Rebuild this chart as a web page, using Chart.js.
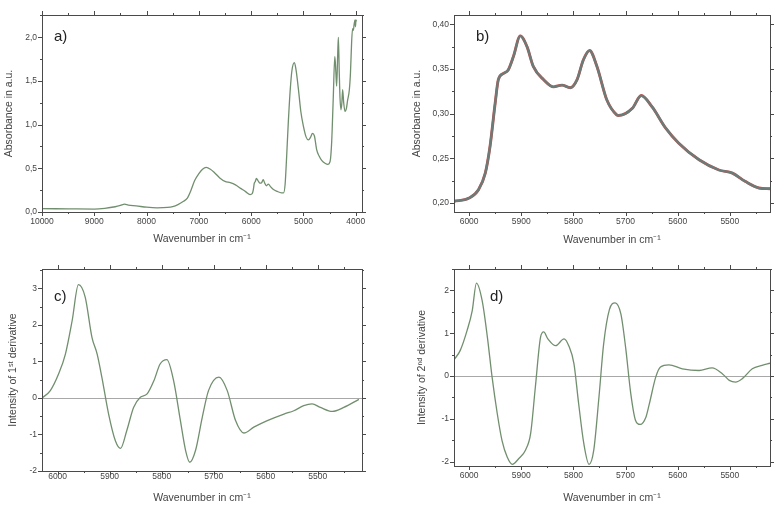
<!DOCTYPE html>
<html>
<head>
<meta charset="utf-8">
<script src="https://cdn.jsdelivr.net/npm/chart.js@4.4.1/dist/chart.umd.min.js"></script>
<style>
  body { margin: 0; background: #fff; }
  .panel { position: absolute; width: 392px; height: 254px; }
</style>
</head>
<body>
<div class="panel" style="left:0;top:0"><canvas id="chartA" width="392" height="254"></canvas></div>
<div class="panel" style="left:392px;top:0"><canvas id="chartB" width="392" height="254"></canvas></div>
<div class="panel" style="left:0;top:254px"><canvas id="chartC" width="392" height="254"></canvas></div>
<div class="panel" style="left:392px;top:254px"><canvas id="chartD" width="392" height="254"></canvas></div>
<script>
// Tick labels
const wideTicks = [10000, 9000, 8000, 7000, 6000, 5000, 4000];
const zoomTicks = [6000, 5900, 5800, 5700, 5600, 5500];

// a) full NIR spectrum
const aWave = [10000, 9500, 9000, 8800, 8600, 8500, 8420, 8350, 8200, 8000, 7800, 7600, 7500, 7400, 7300, 7220, 7150, 7080, 7000, 6930, 6860, 6780, 6700, 6600, 6500, 6400, 6300, 6200, 6100, 6020, 5980, 5960, 5940, 5920, 5900, 5870, 5830, 5800, 5770, 5740, 5710, 5670, 5630, 5580, 5500, 5420, 5380, 5350, 5320, 5290, 5255, 5220, 5172, 5140, 5095, 5050, 5000, 4950, 4905, 4860, 4828, 4790, 4746, 4700, 4651, 4580, 4536, 4490, 4460, 4430, 4400, 4380, 4365, 4345, 4332, 4315, 4300, 4281, 4265, 4250, 4230, 4205, 4180, 4155, 4122, 4100, 4078, 4060, 4046, 4030, 4014, 4005, 3995, 3985];
const aAbs = [0.038, 0.036, 0.034, 0.042, 0.06, 0.075, 0.09, 0.078, 0.07, 0.055, 0.048, 0.052, 0.062, 0.085, 0.12, 0.16, 0.25, 0.36, 0.44, 0.49, 0.51, 0.49, 0.45, 0.39, 0.35, 0.335, 0.31, 0.27, 0.23, 0.2, 0.21, 0.25, 0.33, 0.35, 0.385, 0.36, 0.33, 0.335, 0.37, 0.33, 0.3, 0.32, 0.29, 0.26, 0.235, 0.22, 0.22, 0.32, 0.65, 1.02, 1.38, 1.62, 1.71, 1.62, 1.4, 1.15, 0.98, 0.86, 0.826, 0.86, 0.9, 0.87, 0.71, 0.64, 0.59, 0.555, 0.545, 0.58, 0.8, 1.3, 1.78, 1.6, 1.44, 1.8, 2.0, 1.6, 1.3, 1.17, 1.25, 1.4, 1.25, 1.15, 1.18, 1.28, 1.4, 1.6, 1.95, 2.1, 2.08, 2.15, 2.2, 2.12, 2.2, 2.18];

// b) zoom 6030-5420 cm-1
const bWave = [6029, 6000, 5982, 5969, 5960, 5950, 5944, 5934, 5925, 5915, 5902, 5889, 5877, 5857, 5838, 5822, 5806, 5793, 5781, 5769, 5755, 5736, 5717, 5713, 5687, 5670, 5649, 5623, 5598, 5559, 5521, 5495, 5470, 5444, 5423];
const bAbs = [0.202, 0.2056, 0.215, 0.2335, 0.263, 0.312, 0.338, 0.345, 0.349, 0.364, 0.387, 0.375, 0.353, 0.338, 0.33, 0.332, 0.329, 0.338, 0.36, 0.3706, 0.353, 0.3155, 0.2987, 0.298, 0.306, 0.3203, 0.3075, 0.2838, 0.267, 0.2484, 0.237, 0.2335, 0.224, 0.2168, 0.216];

// c) 1st derivative
const cWave = [6030, 6014, 5998, 5985, 5972, 5960, 5947, 5934, 5924, 5915, 5902, 5889, 5879, 5867, 5854, 5841, 5828, 5815, 5803, 5790, 5777, 5764, 5754, 5746, 5735, 5722, 5710, 5690, 5674, 5658, 5642, 5623, 5597, 5565, 5546, 5527, 5511, 5495, 5472, 5450, 5421];
const cDeriv = [0.0, 0.2, 0.66, 1.2, 2.12, 3.1, 2.76, 1.66, 1.2, 0.57, -0.44, -1.17, -1.38, -0.89, -0.26, 0.02, 0.11, 0.47, 0.93, 1.05, 0.47, -0.62, -1.44, -1.76, -1.44, -0.53, 0.2, 0.57, 0.2, -0.62, -0.96, -0.8, -0.62, -0.44, -0.35, -0.21, -0.16, -0.26, -0.37, -0.26, -0.04];

// d) 2nd derivative
const dWave = [6029, 6017, 6004, 5994, 5986, 5975, 5965, 5956, 5946, 5937, 5927, 5917, 5905, 5892, 5882, 5873, 5863, 5857, 5849, 5834, 5818, 5809, 5799, 5790, 5780, 5770, 5761, 5751, 5742, 5731, 5720, 5709, 5700, 5690, 5681, 5672, 5661, 5655, 5642, 5633, 5617, 5591, 5559, 5534, 5514, 5501, 5489, 5476, 5457, 5438, 5423];
const dDeriv = [0.38, 0.6, 1.06, 1.53, 2.17, 1.76, 0.91, -0.02, -0.88, -1.5, -1.89, -2.06, -1.93, -1.73, -1.34, -0.26, 0.91, 1.03, 0.87, 0.71, 0.87, 0.71, 0.29, -0.64, -1.58, -2.06, -1.73, -0.49, 0.75, 1.55, 1.71, 1.45, 0.68, -0.41, -1.03, -1.13, -0.96, -0.68, -0.02, 0.21, 0.26, 0.17, 0.13, 0.19, 0.05, -0.1, -0.14, -0.06, 0.17, 0.25, 0.3];

const LINE = '#718f6e';
const TEXT = '#444';
const FONT = '"Liberation Sans", Arial, sans-serif';

function pts(xs, ys) {
  return xs.map((x, i) => ({ x: x, y: ys[i] }));
}

function comma(digits) {
  return v => v.toFixed(digits).replace('.', ',');
}

// Box, mirrored major/minor ticks, zero line and panel letter
const framePlugin = {
  id: 'frame',
  beforeDatasetsDraw(chart, args, opts) {
    if (!opts.zeroLine) return;
    const { ctx, chartArea } = chart;
    const y0 = Math.round(chart.scales.y.getPixelForValue(0)) + 0.5;
    ctx.save();
    ctx.strokeStyle = '#a8a8a8';
    ctx.lineWidth = 1;
    ctx.beginPath();
    ctx.moveTo(chartArea.left, y0);
    ctx.lineTo(chartArea.right, y0);
    ctx.stroke();
    ctx.restore();
  },
  afterDraw(chart, args, opts) {
    const { ctx, chartArea } = chart;
    const { left, right, top, bottom } = chartArea;
    const xs = chart.scales.x, ys = chart.scales.y;
    ctx.save();
    ctx.strokeStyle = '#4a4a4a';
    ctx.lineWidth = 1;
    ctx.strokeRect(Math.round(left) + 0.5, Math.round(top) + 0.5, Math.round(right - left), Math.round(bottom - top));

    function eachTick(scale, major, minor, fn) {
      const lo = Math.min(scale.min, scale.max), hi = Math.max(scale.min, scale.max);
      const ratio = Math.round(major / minor);
      for (let k = Math.ceil(lo / minor - 1e-6); k <= Math.floor(hi / minor + 1e-6); k++) {
        fn(scale.getPixelForValue(k * minor), k % ratio === 0);
      }
    }
    ctx.beginPath();
    eachTick(xs, opts.xMajor, opts.xMinor, (px, isMajor) => {
      const len = isMajor ? 4 : 2;
      const x = Math.round(px) + 0.5;
      ctx.moveTo(x, bottom); ctx.lineTo(x, bottom + len);
      ctx.moveTo(x, top); ctx.lineTo(x, top - len);
    });
    eachTick(ys, opts.yMajor, opts.yMinor, (py, isMajor) => {
      const len = isMajor ? 4 : 2;
      const y = Math.round(py) + 0.5;
      ctx.moveTo(left, y); ctx.lineTo(left - len, y);
      ctx.moveTo(right, y); ctx.lineTo(right + len, y);
    });
    ctx.stroke();

    ctx.fillStyle = '#222';
    ctx.font = '15px ' + FONT;
    ctx.textBaseline = 'middle';
    ctx.fillText(opts.letter, left + opts.letterDx, top + opts.letterDy);
    ctx.restore();
  }
};

function makeChart(id, cfg) {
  // first dataset is drawn on top
  const datasets = cfg.series.map(s => ({
    data: s.data,
    borderColor: s.color,
    borderWidth: s.width,
    pointRadius: 0,
    fill: false,
    cubicInterpolationMode: 'monotone'
  }));
  return new Chart(document.getElementById(id), {
    type: 'line',
    data: { datasets: datasets },
    plugins: [framePlugin],
    options: {
      responsive: false,
      animation: false,
      devicePixelRatio: 1,
      layout: { padding: { left: 0, right: cfg.padRight, top: 15, bottom: 0 } },
      plugins: {
        legend: { display: false },
        tooltip: { enabled: false },
        frame: cfg.frame
      },
      scales: {
        x: {
          type: 'linear',
          reverse: true,
          min: cfg.xMin,
          max: cfg.xMax,
          grid: { display: false, drawTicks: false },
          border: { display: false },
          afterBuildTicks: s => { s.ticks = cfg.xTicks.map(v => ({ value: v })); },
          afterFit: s => { s.height = cfg.xHeight; },
          ticks: {
            padding: cfg.xPad,
            color: TEXT,
            font: { family: FONT, size: 8.5 },
            maxRotation: 0,
            autoSkip: false,
            callback: v => String(v)
          },
          title: {
            display: true,
            text: 'Wavenumber in cm\u207B\u00B9',
            color: TEXT,
            font: { family: FONT, size: 10.5 },
            padding: { top: 0, bottom: cfg.xTitlePad }
          }
        },
        y: {
          type: 'linear',
          min: cfg.yMin,
          max: cfg.yMax,
          grid: { display: false, drawTicks: false },
          border: { display: false },
          afterBuildTicks: s => { s.ticks = cfg.yTicks.map(v => ({ value: v })); },
          afterFit: s => { s.width = cfg.yWidth; },
          ticks: {
            padding: 5,
            color: TEXT,
            font: { family: FONT, size: 8.5 },
            autoSkip: false,
            callback: cfg.yFormat
          },
          title: {
            display: true,
            text: cfg.yTitle,
            color: TEXT,
            font: { family: FONT, size: 10.5 },
            padding: { top: cfg.yTitlePad, bottom: 0 }
          }
        }
      }
    }
  });
}

makeChart('chartA', {
  series: [{ data: pts(aWave, aAbs), color: LINE, width: 1.3 }],
  xMin: 3880, xMax: 10000, xTicks: wideTicks,
  yMin: 0, yMax: 2.255, yTicks: [0, 0.5, 1, 1.5, 2], yFormat: comma(1),
  yTitle: 'Absorbance in a.u.',
  padRight: 30, xHeight: 42, yWidth: 42, xPad: 5, xTitlePad: 8.4, yTitlePad: 2.4,
  frame: { xMajor: 1000, xMinor: 500, yMajor: 0.5, yMinor: 0.25, letter: 'a)', letterDx: 12, letterDy: 21.5 }
});

makeChart('chartB', {
  series: [
    { data: pts(bWave, bAbs), color: '#6b7c78', width: 2.3 },
    { data: pts(bWave, bAbs), color: '#c0504d', width: 2.9 }
  ],
  xMin: 5423, xMax: 6029, xTicks: zoomTicks,
  yMin: 0.19, yMax: 0.4104, yTicks: [0.2, 0.25, 0.3, 0.35, 0.4], yFormat: comma(2),
  yTitle: 'Absorbance in a.u.',
  padRight: 14, xHeight: 42, yWidth: 62, xPad: 5, xTitlePad: 7.7, yTitlePad: 19.2,
  frame: { xMajor: 100, xMinor: 50, yMajor: 0.05, yMinor: 0.025, letter: 'b)', letterDx: 22, letterDy: 21.5 }
});

makeChart('chartC', {
  series: [{ data: pts(cWave, cDeriv), color: LINE, width: 1.3 }],
  xMin: 5415, xMax: 6030, xTicks: zoomTicks,
  yMin: -2, yMax: 3.53, yTicks: [-2, -1, 0, 1, 2, 3], yFormat: v => String(v),
  yTitle: 'Intensity of 1\u02E2\u1D57 derivative',
  padRight: 30, xHeight: 37, yWidth: 42, xPad: 1, xTitlePad: 4, yTitlePad: 7.2,
  frame: { xMajor: 100, xMinor: 50, yMajor: 1, yMinor: 0.5, zeroLine: true, letter: 'c)', letterDx: 12, letterDy: 28 }
});

makeChart('chartD', {
  series: [{ data: pts(dWave, dDeriv), color: LINE, width: 1.3 }],
  xMin: 5423, xMax: 6029, xTicks: zoomTicks,
  yMin: -2.1, yMax: 2.5, yTicks: [-2, -1, 0, 1, 2], yFormat: v => String(v),
  yTitle: 'Intensity of 2\u207F\u1D48 derivative',
  padRight: 14, xHeight: 42, yWidth: 62, xPad: 5, xTitlePad: 4, yTitlePad: 24.2,
  frame: { xMajor: 100, xMinor: 50, yMajor: 1, yMinor: 0.5, zeroLine: true, letter: 'd)', letterDx: 36, letterDy: 28 }
});
</script>
</body>
</html>
